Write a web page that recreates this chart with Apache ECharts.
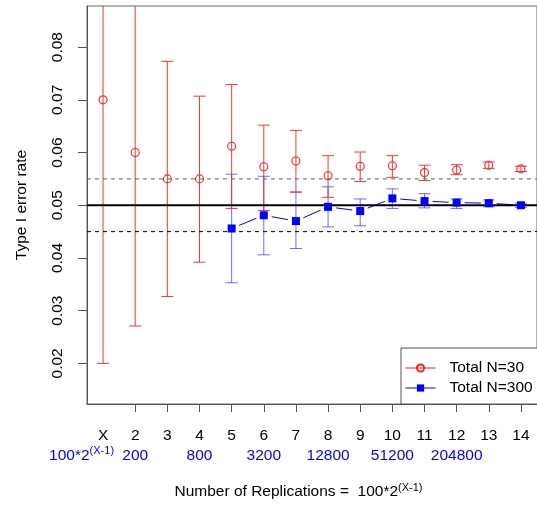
<!DOCTYPE html>
<html>
<head>
<meta charset="utf-8">
<script src="https://cdn.jsdelivr.net/npm/echarts@6/dist/echarts.min.js"></script>
<style>
  html, body { margin: 0; padding: 0; background: #fff; }
  #chart { width: 537px; height: 506px; }
</style>
</head>
<body>
<div id="chart"></div>
<script>
// Design points X = 1..14, number of replications = 100*2^(X-1)
const xValues = [1, 2, 3, 4, 5, 6, 7, 8, 9, 10, 11, 12, 13, 14];
const xTopLabels = ['X', '2', '3', '4', '5', '6', '7', '8', '9', '10', '11', '12', '13', '14'];
const repLabels = ['100*2', '200', '', '800', '', '3200', '', '12800', '', '51200', '', '204800', '', ''];
const yTicks = [0.02, 0.03, 0.04, 0.05, 0.06, 0.07, 0.08];

// Total N = 30: estimated type I error rate with interval limits
const n30Mean  = [0.0700, 0.0600, 0.0550, 0.0550, 0.0612, 0.0573, 0.0584, 0.0556, 0.0574, 0.0575, 0.0562, 0.0567, 0.0576, 0.0569];
const n30Lower = [0.0200, 0.0271, 0.0327, 0.0392, 0.0494, 0.0490, 0.0525, 0.0515, 0.0545, 0.0553, 0.0547, 0.0558, 0.0570, 0.0564];
const n30Upper = [0.1200, 0.0929, 0.0773, 0.0707, 0.0729, 0.0652, 0.0642, 0.0594, 0.0601, 0.0594, 0.0576, 0.0577, 0.0582, 0.0574];

// Total N = 300 (run from X = 5 onwards)
const n300X     = [5, 6, 7, 8, 9, 10, 11, 12, 13, 14];
const n300Mean  = [0.0456, 0.0481, 0.0470, 0.0497, 0.0489, 0.0513, 0.0508, 0.0505, 0.0504, 0.0500];
const n300Lower = [0.0353, 0.0406, 0.0418, 0.0459, 0.0461, 0.0494, 0.0495, 0.0494, 0.0497, 0.0496];
const n300Upper = [0.0559, 0.0555, 0.0525, 0.0535, 0.0512, 0.0531, 0.0522, 0.0512, 0.0510, 0.0504];

// Nominal level and tolerance band
const nominal = 0.05;
const bandLow = 0.045;
const bandHigh = 0.055;
const xSpan = [0.5, 14.5];

const FONT = 'Liberation Sans, Arial, sans-serif';
const RED = '#ff2020';
const BLUE = '#0000ff';

function errorBars(color, opacity) {
  return function (params, api) {
    const x = api.value(0);
    const pLo = api.coord([x, api.value(1)]);
    const pHi = api.coord([x, api.value(2)]);
    const w = 6;
    const style = { stroke: color, lineWidth: 1, opacity: opacity };
    return {
      type: 'group',
      children: [
        { type: 'line', shape: { x1: pLo[0], y1: pLo[1], x2: pHi[0], y2: pHi[1] }, style: style },
        { type: 'line', shape: { x1: pLo[0] - w, y1: pLo[1], x2: pLo[0] + w, y2: pLo[1] }, style: style },
        { type: 'line', shape: { x1: pHi[0] - w, y1: pHi[1], x2: pHi[0] + w, y2: pHi[1] }, style: style }
      ]
    };
  };
}

// connecting segments that stop short of each point
function gappedSegment(params, api) {
  const p0 = api.coord([api.value(0), api.value(1)]);
  const p1 = api.coord([api.value(2), api.value(3)]);
  const dx = p1[0] - p0[0], dy = p1[1] - p0[1];
  const len = Math.sqrt(dx * dx + dy * dy);
  const gap = 8;
  if (len <= 2 * gap) return null;
  const ux = dx / len, uy = dy / len;
  return {
    type: 'line',
    shape: { x1: p0[0] + ux * gap, y1: p0[1] + uy * gap, x2: p1[0] - ux * gap, y2: p1[1] - uy * gap },
    style: { stroke: BLUE, lineWidth: 1 }
  };
}

function hLine(level, color, width, type) {
  return {
    type: 'line',
    silent: true,
    symbol: 'none',
    data: [[xSpan[0], level], [xSpan[1], level]],
    lineStyle: { color: color, width: width, type: type }
  };
}

const n30Bars = xValues.map((x, i) => [x, n30Lower[i], n30Upper[i]]);
const n300Bars = n300X.map((x, i) => [x, n300Lower[i], n300Upper[i]]);
const n300Segments = n300X.slice(0, -1).map((x, i) => [x, n300Mean[i], n300X[i + 1], n300Mean[i + 1]]);

const labelFont = { fontFamily: FONT, fontSize: 15.5, lineHeight: 19.5 };

const chart = echarts.init(document.getElementById('chart'), null, { renderer: 'canvas' });

chart.setOption({
  animation: false,
  backgroundColor: '#fff',
  textStyle: { fontFamily: FONT },
  grid: {
    left: 87, top: 6, right: -8, bottom: 101,
    show: true, borderColor: '#666', borderWidth: 1, backgroundColor: 'transparent'
  },
  legend: {
    left: 401, top: 348,
    orient: 'vertical',
    padding: [12, 40, 8, 4],
    itemWidth: 30, itemHeight: 9, itemGap: 4,
    borderColor: '#555', borderWidth: 1, backgroundColor: '#fff',
    textStyle: { fontFamily: FONT, fontSize: 15.5, color: '#000', padding: [0, 0, 0, 9] },
    data: [
      { name: 'Total N=30', lineStyle: { color: RED, width: 1, opacity: 1 } },
      { name: 'Total N=300', lineStyle: { color: BLUE, width: 1, opacity: 1 } }
    ]
  },
  xAxis: [
    {
      type: 'value',
      min: xSpan[0], max: xSpan[1],
      splitLine: { show: false },
      axisLine: { show: true, onZero: false, lineStyle: { color: '#555', width: 1 } },
      axisTick: { show: true, length: 8, lineStyle: { color: '#555' }, customValues: xValues.slice(1) },
      axisLabel: {
        customValues: xValues,
        hideOverlap: false,
        margin: 22,
        formatter: function (v) {
          const i = Math.round(v) - 1;
          let s = '{k|' + xTopLabels[i] + '}';
          if (i > 0 && repLabels[i]) s += '\n{b|' + repLabels[i] + '}';
          return s;
        },
        rich: {
          k: Object.assign({ color: '#000' }, labelFont),
          b: Object.assign({ color: BLUE }, labelFont)
        }
      },
      name: '{t|Number of Replications =  100*2}{s|(X-1)}',
      nameLocation: 'middle',
      nameGap: 78,
      nameTextStyle: {
        padding: [0, 27, 0, 0],
        rich: {
          t: { fontFamily: FONT, fontSize: 15.5, color: '#000', lineHeight: 19 },
          s: { fontFamily: FONT, fontSize: 11, color: '#000', lineHeight: 19, padding: [0, 0, 8, 0] }
        }
      }
    },
    {
      // second row caption under X: the replication formula
      type: 'value',
      position: 'bottom',
      min: xSpan[0], max: xSpan[1],
      splitLine: { show: false },
      axisLine: { show: false },
      axisTick: { show: false },
      axisLabel: {
        customValues: [xValues[0]],
        margin: 41.5,
        formatter: () => '{bl|' + repLabels[0] + '}{sl|(X-1)}',
        rich: {
          bl: Object.assign({ color: BLUE }, labelFont),
          sl: { fontFamily: FONT, fontSize: 11, color: BLUE, lineHeight: 19.5, padding: [0, 43, 8, 0] }
        }
      }
    }
  ],
  yAxis: {
    type: 'value',
    min: 0.0123, max: 0.0878,
    splitLine: { show: false },
    axisLine: { show: true, onZero: false, lineStyle: { color: '#555', width: 1 } },
    axisTick: { show: true, length: 9, lineStyle: { color: '#555' }, customValues: yTicks },
    axisLabel: {
      customValues: yTicks,
      rotate: 90,
      margin: 21,
      fontFamily: FONT, fontSize: 15.5, color: '#000',
      formatter: v => v.toFixed(2)
    },
    name: 'Type I error rate',
    nameLocation: 'middle',
    nameRotate: 90,
    nameGap: 57,
    nameTextStyle: { fontFamily: FONT, fontSize: 15.5, color: '#000' }
  },
  series: [
    hLine(bandHigh, '#666', 1, [4, 4]),
    hLine(bandLow, '#000', 1, [4, 4]),
    hLine(nominal, '#000', 2, 'solid'),
    {
      name: 'n300 bars',
      type: 'custom',
      clip: true,
      silent: true,
      renderItem: errorBars('#2f2fff', 0.7),
      encode: { x: 0, y: [1, 2] },
      data: n300Bars
    },
    {
      name: 'n30 bars',
      type: 'custom',
      clip: true,
      silent: true,
      renderItem: errorBars(RED, 0.9),
      encode: { x: 0, y: [1, 2] },
      data: n30Bars
    },
    {
      name: 'Total N=30',
      type: 'line',
      data: xValues.map((x, i) => [x, n30Mean[i]]),
      symbol: 'circle',
      symbolSize: 8,
      itemStyle: { color: 'rgba(255,255,255,0)', borderColor: RED, borderWidth: 1.1 },
      lineStyle: { color: RED, width: 0, opacity: 0 },
      silent: true
    },
    {
      name: 'n300 segments',
      type: 'custom',
      clip: true,
      silent: true,
      renderItem: gappedSegment,
      encode: { x: [0, 2], y: [1, 3] },
      data: n300Segments
    },
    {
      name: 'Total N=300',
      type: 'line',
      data: n300X.map((x, i) => [x, n300Mean[i]]),
      symbol: 'rect',
      symbolSize: 8,
      itemStyle: { color: BLUE },
      lineStyle: { color: BLUE, width: 0, opacity: 0 },
      silent: true
    }
  ]
});
</script>
</body>
</html>
